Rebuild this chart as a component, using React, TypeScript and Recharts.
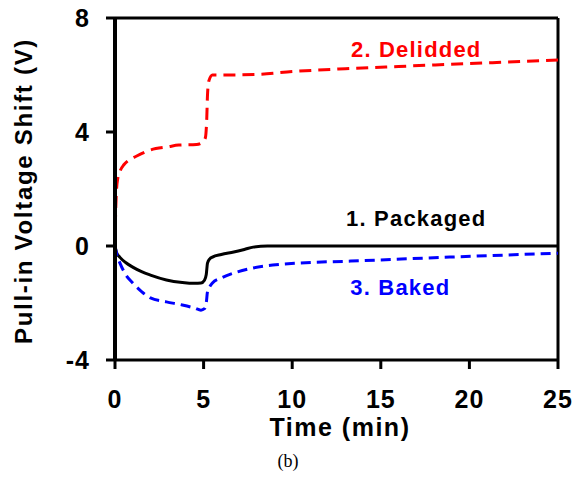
import React from 'react';
import { LineChart, Line, XAxis, YAxis, ReferenceDot, ReferenceLine } from 'recharts';

const delidT = [0, 0.03, 0.08, 0.15, 0.3, 0.5, 0.75, 1.2, 2, 3, 3.6, 4.6, 4.95, 5.1, 5.18, 5.22, 5.3, 5.5, 6, 8, 10, 13, 16, 20, 25];
const delidV = [0, 1.0, 1.9, 2.35, 2.65, 2.85, 3.0, 3.15, 3.37, 3.48, 3.54, 3.56, 3.65, 3.8, 4.5, 5.3, 5.8, 6.0, 6.0, 6.02, 6.12, 6.22, 6.3, 6.4, 6.53];

const packT = [0, 0.1, 0.28, 0.6, 1, 1.5, 2, 2.9, 3.8, 4.5, 4.85, 5.05, 5.15, 5.22, 5.35, 5.5, 6, 6.7, 7.3, 7.8, 8.6, 10, 15, 20, 25];
const packV = [0, -0.25, -0.4, -0.58, -0.74, -0.9, -1.02, -1.19, -1.28, -1.31, -1.3, -1.2, -1.0, -0.6, -0.45, -0.39, -0.3, -0.21, -0.12, -0.04, 0, 0, 0, 0, 0];

const bakeT = [0, 0.1, 0.28, 0.6, 1, 1.5, 2, 2.9, 3.8, 4.5, 4.85, 5.05, 5.15, 5.22, 5.35, 5.5, 6, 6.7, 7.8, 8.9, 10.3, 13.3, 18.9, 25];
const bakeV = [0, -0.3, -0.6, -1.0, -1.3, -1.6, -1.82, -1.96, -2.07, -2.18, -2.25, -2.2, -2.0, -1.6, -1.42, -1.3, -1.12, -0.95, -0.77, -0.67, -0.6, -0.53, -0.39, -0.25];

const xTicks = [0, 5, 10, 15, 20, 25];
const yTicks = [-4, 0, 4, 8];

const seriesLabels = [
  { name: '2. Delidded', t: 17.0, v: 6.9, color: '#ff0000' },
  { name: '1. Packaged', t: 17.0, v: 0.98, color: '#000000' },
  { name: '3. Baked', t: 16.1, v: -1.47, color: '#0000ff' },
];

const zip = (ts: number[], vs: number[]) => ts.map((t, i) => ({ t, v: vs[i] }));
const delidded = zip(delidT, delidV);
const packaged = zip(packT, packV);
const baked = zip(bakeT, bakeV);

const FONT = '"Liberation Sans", Arial, sans-serif';

const XTick = (props: any) => {
  const { x, y, payload } = props;
  return (
    <text x={x} y={y + 39} textAnchor="middle" fontFamily={FONT} fontWeight="bold" fontSize={25} fill="#000" letterSpacing={1}>
      {payload.value}
    </text>
  );
};

const YTick = (props: any) => {
  const { x, y, payload } = props;
  return (
    <text x={x - 16} y={y + 9} textAnchor="end" fontFamily={FONT} fontWeight="bold" fontSize={25} fill="#000" letterSpacing={1}>
      {payload.value}
    </text>
  );
};

export default function App() {
  return (
    <div style={{ position: 'absolute', left: 0, top: 0, width: 576, height: 478, background: '#fff' }}>
      <LineChart width={576} height={478} margin={{ top: 18, right: 18, bottom: 18, left: 55 }}>
        <XAxis
          xAxisId="b"
          dataKey="t"
          type="number"
          domain={[0, 25]}
          ticks={xTicks}
          allowDataOverflow
          tickSize={9}
          tickMargin={0}
          tick={<XTick />}
          axisLine={{ stroke: '#000', strokeWidth: 3 }}
          tickLine={{ stroke: '#000', strokeWidth: 3 }}
          height={100}
          label={{
            content: () => (
              <text x={340} y={436} textAnchor="middle" fontFamily={FONT} fontWeight="bold" fontSize={25} fill="#000" letterSpacing={1.5}>
                Time (min)
              </text>
            ),
          }}
        />
        <YAxis
          yAxisId="l"
          type="number"
          domain={[-4, 8]}
          ticks={yTicks}
          tickSize={9}
          tickMargin={0}
          tick={<YTick />}
          width={60}
          axisLine={{ stroke: '#000', strokeWidth: 4 }}
          tickLine={{ stroke: '#000', strokeWidth: 3 }}
          label={{
            content: () => (
              <text x={23} y={191} transform="rotate(-90 23 191)" textAnchor="middle" dominantBaseline="central" fontFamily={FONT} fontWeight="bold" fontSize={24} fill="#000" letterSpacing={1.7}>
                Pull-in Voltage Shift (V)
              </text>
            ),
          }}
        />
        <ReferenceLine xAxisId="b" yAxisId="l" y={8} stroke="#000" strokeWidth={3} />
        <ReferenceLine xAxisId="b" yAxisId="l" x={25} stroke="#000" strokeWidth={3} />
        <Line xAxisId="b" yAxisId="l" data={delidded} dataKey="v" type="monotone" stroke="#ff0000" strokeWidth={3} strokeDasharray="12 7" dot={false} isAnimationActive={false} />
        <Line xAxisId="b" yAxisId="l" data={packaged} dataKey="v" type="monotone" stroke="#000000" strokeWidth={3} dot={false} isAnimationActive={false} />
        <Line xAxisId="b" yAxisId="l" data={baked} dataKey="v" type="monotone" stroke="#0000ff" strokeWidth={3} strokeDasharray="10 6" dot={false} isAnimationActive={false} />
        {seriesLabels.map((s) => (
          <ReferenceDot
            key={s.name}
            xAxisId="b"
            yAxisId="l"
            x={s.t}
            y={s.v}
            r={0}
            fill="none"
            stroke="none"
            label={{
              content: (p: any) => {
                const vb = p.viewBox || {};
                const cx = (vb.x ?? 0) + (vb.width ?? 0) / 2;
                const cy = (vb.y ?? 0) + (vb.height ?? 0) / 2;
                return (
                  <text x={cx} y={cy} textAnchor="middle" dominantBaseline="central" fontFamily={FONT} fontWeight="bold" fontSize={22} fill={s.color} letterSpacing={1.2}>
                    {s.name}
                  </text>
                );
              },
            }}
          />
        ))}
      </LineChart>
      <div style={{ position: 'absolute', left: 0, width: 576, top: 451, textAlign: 'center', fontFamily: '"Liberation Serif", "Times New Roman", serif', fontSize: 18, color: '#000' }}>
        (b)
      </div>
    </div>
  );
}
